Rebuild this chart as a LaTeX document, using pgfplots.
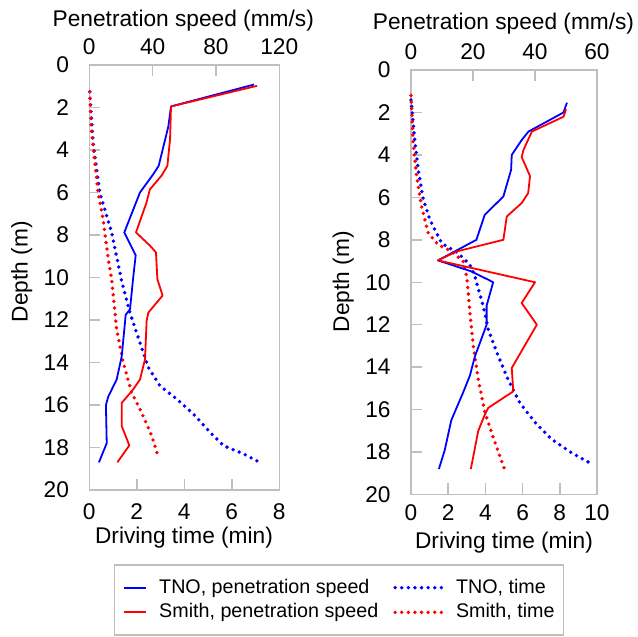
\documentclass[border=0pt]{standalone}
\usepackage{fontspec}
\setmainfont{Liberation Sans}
\usepackage{pgfplots}
\pgfplotsset{compat=1.18}
\definecolor{axgray}{RGB}{191,191,191}
\definecolor{tblue}{RGB}{0,0,255}
\definecolor{sred}{RGB}{255,0,0}
\newcommand{\fs}{\fontsize{11.35pt}{13.6pt}\selectfont}
\newcommand{\lfs}{\fontsize{9.85pt}{11.8pt}\selectfont}
\pgfplotsset{
  depthbase/.style={scale only axis, ymin=0, ymax=20, y dir=reverse,
    tick align=inside, major tick length=5.5pt,
    axis line style={draw=axgray, line width=0.75pt},
    every tick/.append style={draw=axgray, line width=0.75pt},
    tick label style={font=\fs},
    /pgf/number format/assume math mode=true, clip=false},
  timeax/.style={depthbase, xtick pos=bottom, ytick pos=left, ytick={0,2,...,20},
    yticklabel style={inner sep=0pt, anchor=east, xshift=-10pt}},
  speedax/.style={depthbase, xtick pos=top, xticklabel pos=top, hide y axis,
    xticklabel style={inner sep=0pt, anchor=south, yshift=5pt}},
  spd/.style={line width=0.9pt, line join=round},
  tim/.style={line width=1.9pt, line cap=round, dash pattern=on 0pt off 3.3pt},
  legshort/.style={legend image code/.code={\draw[##1] (0pt,0pt) -- (11pt,0pt);}},
  leglong/.style={legend image code/.code={\draw[##1] (0pt,0pt) -- (23.5pt,0pt);}},
}
\begin{document}
\begin{tikzpicture}
\useasboundingbox (0,0) rectangle (319pt,318.5pt);
% ---------- left: time axis ----------
\begin{axis}[timeax, name=LA, at={(44.65pt,73.5pt)}, anchor=south west,
  width=95pt, height=212.5pt, xmin=0, xmax=8, xtick={0,2,...,8},
  xticklabel style={inner sep=0pt, anchor=north, yshift=-6.5pt}]
\addplot[tblue, tim] coordinates {(0.02,1.26) (0.16,3.65) (0.44,6.0) (0.94,7.88) (1.29,9.77) (1.36,10.16) (1.71,11.65) (2.13,13.06) (2.49,14.24) (2.98,15.1) (3.69,15.73) (4.39,16.43) (5.1,17.3) (5.66,17.92) (6.5,18.3) (7.14,18.68)};
\addplot[sred, tim] coordinates {(0.02,1.26) (0.08,3.0) (0.37,6.0) (0.58,7.26) (0.8,9.14) (0.94,10.08) (1.15,12.43) (1.43,14.0) (1.78,15.41) (2.2,16.35) (2.63,17.45) (2.91,18.47)};
\end{axis}
% ---------- left: speed axis ----------
\begin{axis}[speedax, at={(44.65pt,73.5pt)}, anchor=south west,
  width=95pt, height=212.5pt, xmin=0, xmax=120, xtick={0,40,80,120}]
\addplot[tblue, spd] coordinates {(104,0.92) (51.6,1.95) (49.9,2.9) (43.8,4.75) (40.4,5.14) (32,6.0) (22.1,7.88) (29.3,8.95) (27.6,10.1) (25.7,11.5) (23,11.75) (20.5,13.7) (17.3,14.8) (12,15.6) (10.5,16.0) (11,17.8) (6.1,18.7)};
\addplot[sred, spd] coordinates {(106,0.98) (51.6,1.95) (51,3.5) (49.3,4.75) (45.7,5.2) (38.3,5.85) (36,6.5) (29.5,7.88) (38.3,8.5) (42.1,8.82) (43,10.08) (46.3,10.85) (37.3,11.65) (36.2,12.04) (35.2,13.85) (32,14.8) (27.8,15.26) (20.5,15.9) (20.5,17.0) (25.3,17.9) (17.7,18.7)};
\end{axis}
% ---------- right: time axis ----------
\begin{axis}[timeax, name=RA, at={(205.5pt,71.25pt)}, anchor=south west,
  width=93pt, height=212.25pt, xmin=0, xmax=10, xtick={0,2,...,10},
  xticklabel style={inner sep=0pt, anchor=north, yshift=-5pt}]
\addplot[tblue, tim] coordinates {(0,1.41) (0.22,3.45) (0.39,4.7) (0.66,6.1) (1.02,7.06) (1.65,8.16) (2.54,8.63) (3.17,9.18) (3.44,9.73) (3.53,10.04) (3.89,11.14) (4.16,12.24) (4.7,13.5) (5.23,14.6) (5.86,15.7) (6.67,16.6) (7.56,17.4) (8.64,18.04) (9.8,18.6)};
\addplot[sred, tim] coordinates {(0,1.2) (0.12,3.45) (0.3,5.0) (0.57,6.43) (0.93,7.69) (1.47,8.24) (2.19,8.55) (2.81,9.02) (2.99,9.73) (3.08,10.5) (3.17,11.45) (3.35,13.0) (3.62,14.6) (3.98,16.15) (4.52,17.57) (5.0,18.74)};
\end{axis}
% ---------- right: speed axis, with legend ----------
\begin{axis}[speedax, at={(205.5pt,71.25pt)}, anchor=south west,
  width=93pt, height=212.25pt, xmin=0, xmax=60, xtick={0,20,40,60},
  legend columns=2, legend cell align=left,
  legend style={at={(axis description cs:-0.3871,-0.2485)}, anchor=center,
    draw=axgray, line width=0.6pt, font=\lfs, inner xsep=4.5pt, inner ysep=7pt,
    row sep=3.7pt, nodes={inner sep=0pt},
    /tikz/every odd column/.append style={column sep=6pt},
    /tikz/every even column/.append style={column sep=7.5pt}}]
\addlegendimage{tblue, spd, legshort}
\addlegendentry{TNO, penetration speed}
\addlegendimage{tblue, tim, leglong}
\addlegendentry{TNO, time}
\addlegendimage{sred, spd, legshort}
\addlegendentry{Smith, penetration speed}
\addlegendimage{sred, tim, leglong}
\addlegendentry{Smith, time}
\addplot[tblue, spd, forget plot] coordinates {(50.3,1.54) (49.2,2.0) (37.9,2.9) (35.7,3.3) (32.5,4.0) (32.3,4.7) (29.8,5.96) (23.8,6.82) (21.1,8.0) (14.1,8.55) (8.7,8.97) (19.5,9.49) (24.9,9.88) (26.5,10.0) (24.4,11.1) (24.4,12.0) (20.6,13.5) (19.0,14.4) (16.8,15.2) (13.0,16.5) (10.9,17.9) (9.0,18.8)};
\addplot[sred, spd, forget plot] coordinates {(50,1.85) (49.2,2.2) (39,2.9) (36.3,3.76) (35.7,4.1) (38.4,5.0) (37.8,5.8) (35.7,6.27) (30.9,6.9) (29.8,8.0) (14.7,8.55) (8.7,8.97) (40,10.0) (35.7,10.98) (40.6,12.0) (32.5,14.04) (33,15.14) (24.9,15.92) (23.8,16.24) (21.7,17.0) (19.3,18.8)};
\end{axis}
% ---------- axis titles ----------
\node[font=\fs, inner sep=0pt, anchor=north] at (92pt,55pt) {Driving time (min)};
\node[font=\fs, inner sep=0pt, anchor=north] at (252pt,52.65pt) {Driving time (min)};
\node[font=\fs, inner sep=0pt, anchor=south] at (91.65pt,302.65pt) {Penetration speed (mm/s)};
\node[font=\fs, inner sep=0pt, anchor=south] at (251.75pt,301pt) {Penetration speed (mm/s)};
\node[font=\fs, inner sep=0pt, rotate=90] at (10.85pt,182.65pt) {Depth (m)};
\node[font=\fs, inner sep=0pt, rotate=90] at (171.65pt,177.65pt) {Depth (m)};
\end{tikzpicture}
\end{document}
